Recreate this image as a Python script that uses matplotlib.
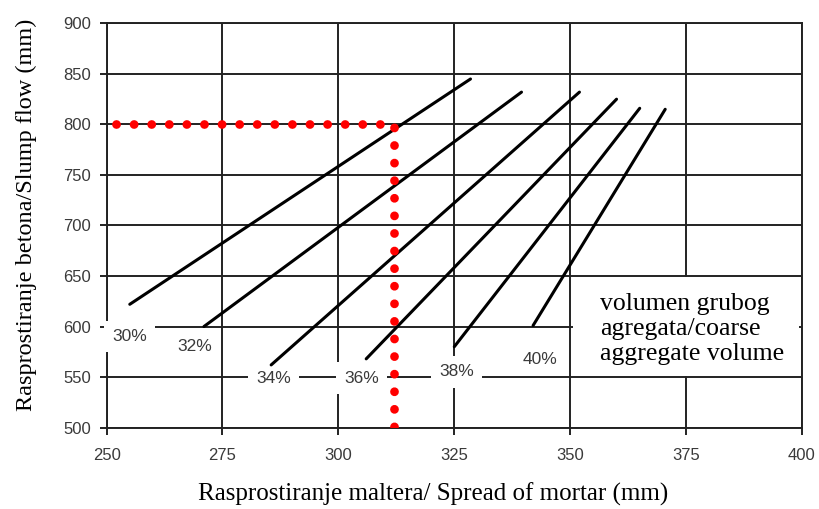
import matplotlib
matplotlib.use("Agg")
import matplotlib.pyplot as plt
from matplotlib.patches import Rectangle

# volumen grubog agregata -> pravci (x = mortar spread, y = slump flow)
labels = ["30%", "32%", "34%", "36%", "38%", "40%"]
x_start = [255, 271, 285.5, 306, 325, 342]
y_start = [622, 600, 562, 568, 580, 601]
x_end = [328.5, 339.5, 352, 360, 365, 370.5]
y_end = [845, 832, 832, 825, 816, 815]
lab_x = [255, 269, 286, 305, 325.5, 343.5]
lab_y = [590, 580, 549, 549, 555, 567]

# primjer ocitanja
read_x = [252, 312, 312]
read_y = [800, 800, 501]

xticks = [250, 275, 300, 325, 350, 375, 400]
yticks = [500, 550, 600, 650, 700, 750, 800, 850, 900]

fig = plt.figure(figsize=(8.2, 5.09), dpi=100)
ax = fig.add_axes([0.130, 0.160, 0.848, 0.794])

ax.set_xlim(250, 400)
ax.set_ylim(500, 900)
ax.set_xticks(xticks)
ax.set_yticks(yticks)
ax.grid(True, color="#222222", lw=1.4, zorder=0)
ax.set_axisbelow(True)
for s in ax.spines.values():
    s.set_color("#222222")
    s.set_linewidth(1.4)
ax.tick_params(length=5, width=1.4, color="#222222", labelsize=12,
               labelcolor="#3a3a3a")
ax.tick_params(axis="x", pad=10)
ax.tick_params(axis="y", pad=6)
for t in ax.get_xticklabels() + ax.get_yticklabels():
    t.set_fontfamily("Liberation Sans")

for i in range(len(labels)):
    ax.plot([x_start[i], x_end[i]], [y_start[i], y_end[i]], color="black",
            lw=2.2, solid_capstyle="round", zorder=3)
    ax.text(lab_x[i], lab_y[i], labels[i], ha="center", va="center",
            fontsize=12.5, color="#3a3a3a", family="Liberation Sans",
            zorder=2.7, bbox=dict(facecolor="white", edgecolor="none", pad=6))

ax.plot(read_x, read_y, color="red", lw=6.3, ls=(0, (0.01, 2.0)),
        dash_capstyle="round", zorder=4)

# okvir za legendu
ax.add_patch(Rectangle((350.6, 550.8), 48.8, 98.4, facecolor="white",
                       edgecolor="none", zorder=1))
ax.text(356.5, 597.5, "volumen grubog\nagregata/coarse\naggregate volume",
        ha="left", va="center", fontsize=18.5, family="Liberation Serif",
        linespacing=1.18, zorder=2)

ax.set_xlabel("Rasprostiranje maltera/ Spread of mortar (mm)",
              family="Liberation Serif", fontsize=18)
ax.set_ylabel("Rasprostiranje betona/Slump flow (mm)",
              family="Liberation Serif", fontsize=17.5)
ax.xaxis.set_label_coords(0.47, -0.135)
ax.yaxis.set_label_coords(-0.100, 0.526)

fig.savefig("out.png", dpi=100)
